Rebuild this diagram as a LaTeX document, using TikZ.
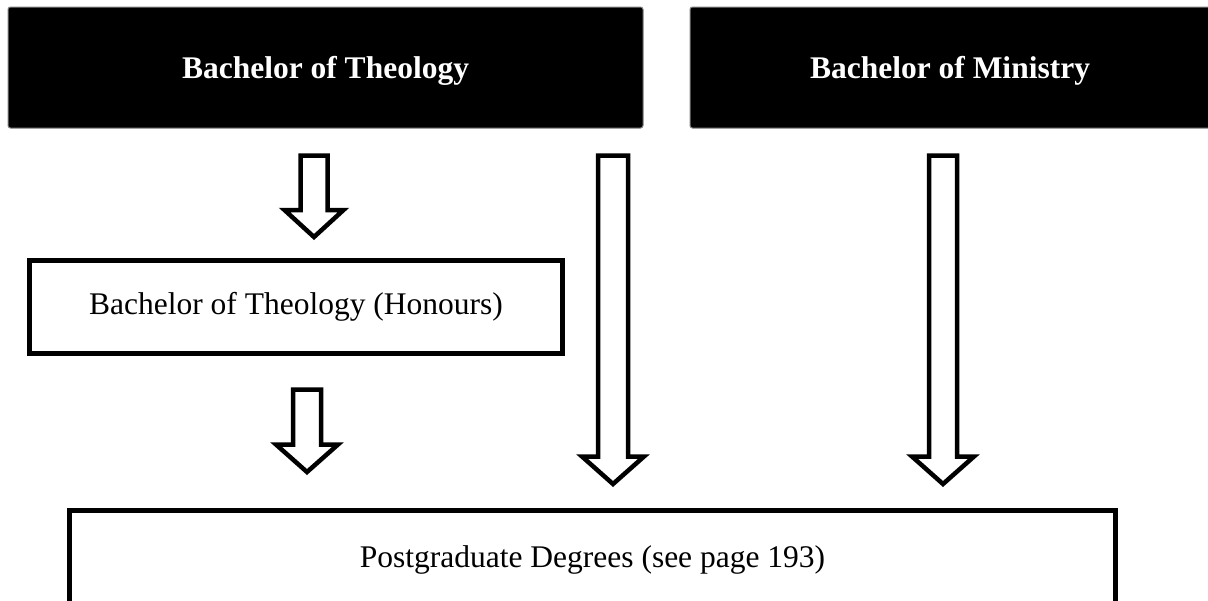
\documentclass[tikz,border=0pt]{standalone}
\usepackage{fontspec}
\setmainfont{Liberation Serif}
\newcommand\dnarrow[6]{%
  \draw[blockarrow] ({#1-#5},#2) -- ({#1+#5},#2) -- ({#1+#5},#3) -- ({#1+#6},#3)
    -- (#1,#4) -- ({#1-#6},#3) -- ({#1-#5},#3) -- cycle;}
\begin{document}
\begin{tikzpicture}[x=1pt,y=-1pt,
  topbox/.style={fill=black, draw=gray, line width=1pt, rounded corners=2.5pt,
    text=white, font=\fontsize{31.5}{36}\selectfont\bfseries, inner sep=0pt, text depth=0pt},
  plainbox/.style={draw=black, line width=5pt, fill=white,
    font=\fontsize{31.5}{36}\selectfont, inner sep=0pt},
  blockarrow/.style={draw=black, fill=white, line width=4.5pt, miter limit=10}]
\useasboundingbox (0,0) rectangle (1208,600);
\clip (0,0) rectangle (1208,600);
\fill[white] (0,0) rectangle (1208,600);
% top boxes
\node[topbox, minimum width=635pt, minimum height=121pt] (bth) at (325.5,67.5) {Bachelor of Theology};
\node[topbox, minimum width=526pt, minimum height=121pt] (bmin) at (953,67.5) {\hspace*{-6pt}Bachelor of Ministry};
% honours box
\node[plainbox, minimum width=533pt, minimum height=93pt] (hons) at (296,307) {Bachelor of Theology (Honours)};
% postgraduate box
\node[plainbox, minimum width=1046pt, minimum height=99pt] (pg) at (592.5,560) {Postgraduate Degrees (see page 193)};
% block arrows
\dnarrow{314}{155.5}{210}{237}{13.5}{29.5}
\dnarrow{613}{155.5}{456.5}{484}{15}{31}
\dnarrow{943}{155.5}{456.5}{484}{14}{31}
\dnarrow{307}{389.5}{444.5}{472}{14}{31}
\end{tikzpicture}
\end{document}
